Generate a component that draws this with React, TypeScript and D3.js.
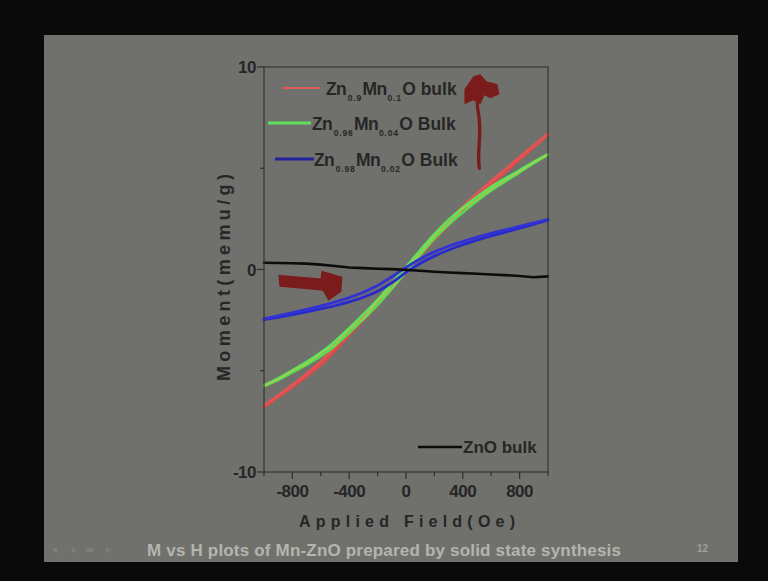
import React from "react";
import * as d3 from "d3";

// Applied field sample points (Oe)
const fieldOe = [-1000, -900, -800, -700, -600, -500, -400, -300, -200, -100, 0, 100, 200, 300, 400, 500, 600, 700, 800, 900, 1000];

// Zn0.9Mn0.1O bulk: descending and ascending branches (memu/g)
const mn10Down = [-6.72, -6.22, -5.7, -5.15, -4.55, -3.82, -3.02, -2.28, -1.52, -0.72, 0.1, 0.9, 1.7, 2.42, 3.1, 3.75, 4.35, 4.95, 5.55, 6.12, 6.7];
const mn10Up = [-6.78, -6.3, -5.8, -5.27, -4.7, -4.0, -3.22, -2.5, -1.74, -0.95, -0.12, 0.7, 1.48, 2.2, 2.9, 3.58, 4.2, 4.82, 5.43, 6.04, 6.66];

// Zn0.96Mn0.04O bulk
const mn04Down = [-5.72, -5.38, -4.98, -4.56, -4.1, -3.55, -2.9, -2.22, -1.5, -0.7, 0.12, 0.95, 1.75, 2.45, 3.05, 3.58, 4.08, 4.5, 4.9, 5.32, 5.7];
const mn04Up = [-5.76, -5.45, -5.08, -4.7, -4.28, -3.76, -3.12, -2.45, -1.75, -0.95, -0.12, 0.72, 1.52, 2.22, 2.82, 3.38, 3.9, 4.35, 4.8, 5.25, 5.66];
const mn04Raw = [-5.74, -5.44, -5.0, -4.66, -4.16, -3.7, -2.98, -2.4, -1.58, -0.88, 0.0, 0.8, 1.66, 2.3, 2.98, 3.44, 3.98, 4.42, 4.84, 5.28, 5.68];

// Zn0.98Mn0.02O bulk
const mn02Down = [-2.43, -2.29, -2.13, -1.97, -1.8, -1.61, -1.39, -1.12, -0.79, -0.36, 0.1, 0.52, 0.87, 1.15, 1.38, 1.6, 1.79, 1.96, 2.13, 2.3, 2.47];
const mn02Up = [-2.48, -2.36, -2.23, -2.09, -1.95, -1.79, -1.6, -1.37, -1.07, -0.66, -0.14, 0.3, 0.66, 0.96, 1.22, 1.45, 1.66, 1.85, 2.04, 2.24, 2.44];

// ZnO bulk (diamagnetic)
const znoBulk = [0.33, 0.32, 0.31, 0.29, 0.24, 0.17, 0.1, 0.07, 0.04, 0.02, -0.02, -0.06, -0.11, -0.15, -0.18, -0.21, -0.25, -0.28, -0.32, -0.38, -0.34];

const xMajorTicks = [-800, -400, 0, 400, 800];
const xMinorTicks = [-1000, -600, -200, 200, 600, 1000];
const yMajorTicks = [-10, 0, 10];
const yMinorTicks = [-5, 5];

const legendEntries = [
  { base: ["Zn", "Mn", "O bulk"], subs: ["0.9", "0.1"], color: "#e05a5a", width: 2.2 },
  { base: ["Zn", "Mn", "O Bulk"], subs: ["0.96", "0.04"], color: "#5ee05e", width: 3 },
  { base: ["Zn", "Mn", "O Bulk"], subs: ["0.98", "0.02"], color: "#23239a", width: 3 },
];

const FONT = "'Liberation Sans', Arial, sans-serif";

export default function App() {
  const W = 768;
  const H = 581;
  const plot = { left: 264, right: 548, top: 67, bottom: 472 };

  const x = d3.scaleLinear().domain([-1000, 1000]).range([plot.left, plot.right]);
  const y = d3.scaleLinear().domain([-10, 10]).range([plot.bottom, plot.top]);

  const smooth = d3
    .line<[number, number]>()
    .x((d) => x(d[0]))
    .y((d) => y(d[1]))
    .curve(d3.curveMonotoneX);
  const jagged = d3
    .line<[number, number]>()
    .x((d) => x(d[0]))
    .y((d) => y(d[1]));

  const pts = (vals: number[]) => fieldOe.map((h, i) => [h, vals[i]] as [number, number]);

  const tickColor = "#2e2e2e";
  const textColor = "#262626";

  const legendLineY = [88, 123, 159];
  const legendLineX = [
    [282, 320],
    [268, 311],
    [275, 314],
  ];
  const legendTextX = [326, 312, 314];

  return (
    <svg
      width={W}
      height={H}
      style={{ position: "fixed", left: 0, top: 0, display: "block" }}
      fontFamily={FONT}
    >
      <rect x={0} y={0} width={W} height={H} fill="#0a0a0a" />
      <rect x={44} y={35} width={694} height={527} fill="#70716d" />

      {/* curves */}
      <g fill="none" strokeLinejoin="round" strokeLinecap="round">
        <path d={smooth(pts(mn10Up)) || ""} stroke="#e14a4a" strokeWidth={2.8} />
        <path d={smooth(pts(mn10Down)) || ""} stroke="#e35454" strokeWidth={2.8} />
        <path d={smooth(pts(mn04Up)) || ""} stroke="#52e052" strokeWidth={2.6} />
        <path d={smooth(pts(mn04Down)) || ""} stroke="#5ae65a" strokeWidth={2.6} />
        <path d={jagged(pts(mn04Raw)) || ""} stroke="#bcc452" strokeWidth={1.2} />
        <path d={smooth(pts(mn02Up)) || ""} stroke="#2a2acc" strokeWidth={2.8} />
        <path d={smooth(pts(mn02Down)) || ""} stroke="#3232d4" strokeWidth={2.8} />
        <path d={jagged(pts(znoBulk)) || ""} stroke="#0c0c0c" strokeWidth={2.6} />
      </g>

      {/* frame */}
      <rect
        x={plot.left}
        y={plot.top}
        width={plot.right - plot.left}
        height={plot.bottom - plot.top}
        fill="none"
        stroke="#353535"
        strokeWidth={1.2}
      />

      {/* y axis ticks */}
      {yMajorTicks.map((t) => (
        <g key={"ym" + t}>
          <line x1={plot.left - 7} x2={plot.left} y1={y(t)} y2={y(t)} stroke={tickColor} strokeWidth={1.2} />
          <text
            x={plot.left - 8}
            y={y(t) + 6}
            textAnchor="end"
            fontSize={17}
            fontWeight="bold"
            fill={textColor}
            letterSpacing={-0.5}
          >
            {t}
          </text>
        </g>
      ))}
      {yMinorTicks.map((t) => (
        <line key={"yn" + t} x1={plot.left - 4} x2={plot.left} y1={y(t)} y2={y(t)} stroke={tickColor} strokeWidth={1.2} />
      ))}

      {/* x axis ticks */}
      {xMajorTicks.map((t) => (
        <g key={"xm" + t}>
          <line x1={x(t)} x2={x(t)} y1={plot.bottom} y2={plot.bottom + 7} stroke={tickColor} strokeWidth={1.2} />
          <text
            x={x(t)}
            y={plot.bottom + 25}
            textAnchor="middle"
            fontSize={17}
            fontWeight="bold"
            fill={textColor}
            letterSpacing={-0.5}
          >
            {t}
          </text>
        </g>
      ))}
      {xMinorTicks.map((t) => (
        <line key={"xn" + t} x1={x(t)} x2={x(t)} y1={plot.bottom} y2={plot.bottom + 4} stroke={tickColor} strokeWidth={1.2} />
      ))}

      {/* axis titles */}
      <text
        x={299}
        y={527}
        fontSize={16}
        fontWeight="bold"
        fill={textColor}
        textLength={216}
        lengthAdjust="spacing"
      >
        Applied Field(Oe)
      </text>
      <text
        transform="translate(230,381) rotate(-90)"
        x={0}
        y={0}
        fontSize={18}
        fontWeight="bold"
        fill={textColor}
        textLength={207}
        lengthAdjust="spacing"
      >
        Moment(memu/g)
      </text>

      {/* legend */}
      {legendEntries.map((e, i) => (
        <g key={"lg" + i}>
          <line
            x1={legendLineX[i][0]}
            x2={legendLineX[i][1]}
            y1={legendLineY[i]}
            y2={legendLineY[i]}
            stroke={e.color}
            strokeWidth={e.width}
          />
          <text x={legendTextX[i]} y={legendLineY[i] + 7} fontSize={17.5} fontWeight="bold" fill={textColor}>
            <tspan letterSpacing={-0.6}>{e.base[0]}</tspan>
            <tspan dy={5.5} dx={1.5} fontSize={8.5} letterSpacing={0.8}>
              {e.subs[0]}
            </tspan>
            <tspan dy={-5.5} dx={0.5} letterSpacing={-0.6}>
              {e.base[1]}
            </tspan>
            <tspan dy={5.5} dx={1} fontSize={8.5} letterSpacing={0.8}>
              {e.subs[1]}
            </tspan>
            <tspan dy={-5.5} dx={0.5}>
              {e.base[2]}
            </tspan>
          </text>
        </g>
      ))}
      <line x1={418} x2={462} y1={447} y2={447} stroke="#0c0c0c" strokeWidth={2.6} />
      <text x={463} y={453} fontSize={17} fontWeight="bold" fill={textColor}>
        ZnO bulk
      </text>

      {/* hand-drawn annotations */}
      <g transform={`translate(${x(510)},${y(5)})`} fill="#7a1c1c">
        <path
          d="M1,0 C-2,-15 4,-35 0,-55 S3,-72 1,-78"
          fill="none"
          stroke="#7a1c1c"
          strokeWidth={3.4}
          strokeLinecap="round"
        />
        <path d="M-14,-64 L-14,-79 L-5,-92 L2,-94 L8,-87 L19,-84 L21,-74 L12,-70 L6,-73 L2,-64 L-5,-68 Z" />
      </g>
      <g transform={`translate(${x(-800)},${y(-0.5)})`} fill="#7a1c1c">
        <path d="M-14,-5 L32,-1 L32,11 L-13,7 Z" />
        <path d="M29,-9 L50,-3 L49,12 L36,21 L31,12 L27,9 Z" />
      </g>

      {/* slide footer */}
      <g fill="#7e7f7b">
        <path d="M52,550 l5,-3 l0,6 z" />
        <path d="M70,550 l5,-3 l0,6 z" />
        <rect x={86} y={548} width={7} height={4} />
        <path d="M106,547 l5,3 l-5,3 z" />
      </g>
      <text
        x={147}
        y={556}
        fontSize={17}
        fontWeight="bold"
        fill="#b3b5ae"
        textLength={474}
        lengthAdjust="spacing"
      >
        M vs H plots of Mn-ZnO prepared by solid state synthesis
      </text>
      <text x={697} y={552} fontSize={10} fontWeight="bold" fill="#9c9e98">
        12
      </text>
    </svg>
  );
}
